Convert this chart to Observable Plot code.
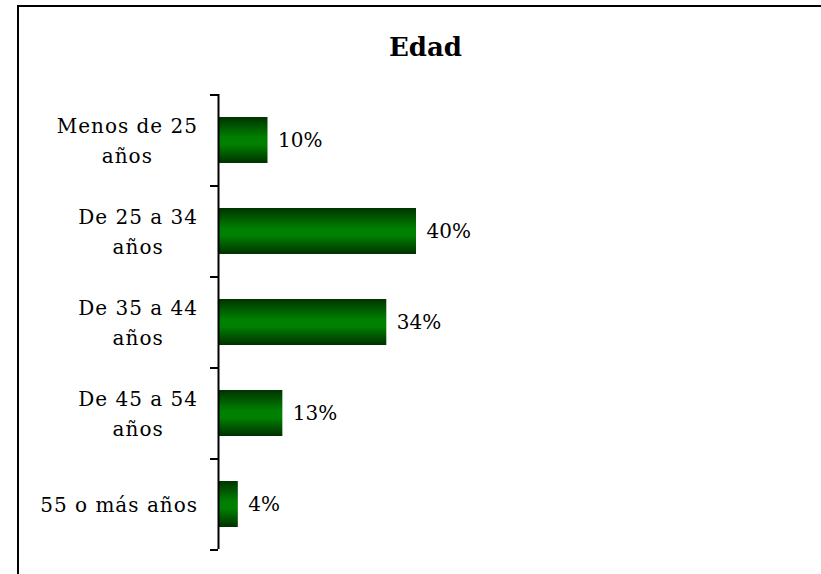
<!DOCTYPE html>
<html><head><meta charset="utf-8">
<script src="https://cdn.jsdelivr.net/npm/d3@7"></script>
<script src="https://cdn.jsdelivr.net/npm/@observablehq/plot@0.6"></script>
<style>
body{margin:0;background:#fff;}
#wrap{position:relative;width:821px;height:574px;overflow:hidden;background:#fff;}
#frame{position:absolute;left:17px;top:5px;width:1000px;height:1000px;border:2px solid #000;box-sizing:border-box;}
#title{position:relative;height:70px;box-sizing:border-box;padding-top:34px;width:851px;text-align:center;font:bold 26px/26px "DejaVu Serif";color:#000;}
#chart{position:relative;}
</style></head><body>
<div id="wrap"><div id="frame"></div><div id="title">Edad</div><div id="chart"></div></div>
<script>
const categories = ["Menos de 25\naños", "De 25 a 34\naños", "De 35 a 44\naños", "De 45 a 54\naños", "55 o más años"];
const values = [10, 40, 34, 13, 4];
const valueLabels = ["10%", "40%", "34%", "13%", "4%"];

const W = 821, H = 504, mL = 218, mR = 108, mT = 24, mB = 25;
const xDomain = [0, 100];
const pxPerUnit = (W - mL - mR) / (xDomain[1] - xDomain[0]);
const step = (H - mT - mB) / categories.length;
const letterSpacing = 1;
const ctx = document.createElement("canvas").getContext("2d");
ctx.font = '20px "DejaVu Serif"';
const labelGap = 21;

const data = categories.map((c, i) => {
  const w = Math.max(...c.split("\n").map(s => ctx.measureText(s).width + letterSpacing * (s.length - 1)));
  return {cat: c, value: values[i], label: valueLabels[i], lx: -(labelGap + w / 2) / pxPerUnit};
});

function gradientDefs() {
  const ns = "http://www.w3.org/2000/svg";
  const defs = document.createElementNS(ns, "defs");
  const g = document.createElementNS(ns, "linearGradient");
  g.setAttribute("id", "barGrad");
  g.setAttribute("x1", "0"); g.setAttribute("y1", "0");
  g.setAttribute("x2", "0"); g.setAttribute("y2", "1");
  [["0", "#003300"], ["0.45", "#008000"], ["0.6", "#008000"], ["1", "#003000"]].forEach(([o, c]) => {
    const s = document.createElementNS(ns, "stop");
    s.setAttribute("offset", o); s.setAttribute("stop-color", c);
    g.appendChild(s);
  });
  defs.appendChild(g);
  return defs;
}

const chart = Plot.plot({
  width: W, height: H,
  marginLeft: mL, marginRight: mR, marginTop: mT, marginBottom: mB,
  style: {fontFamily: '"DejaVu Serif"', fontSize: "20px", color: "#000", background: "transparent", overflow: "visible"},
  x: {domain: xDomain, axis: null},
  y: {domain: categories, paddingInner: 0.5, paddingOuter: 0.25, axis: null},
  marks: [
    gradientDefs,
    Plot.barX(data, {x: "value", y: "cat", fill: "url(#barGrad)"}),
    Plot.ruleX([0], {stroke: "#000", strokeWidth: 2}),
    Plot.axisY({ticks: categories, tickSize: 8, fill: "none", stroke: "#000", strokeWidth: 2, label: null, dy: -step / 2}),
    Plot.axisY({ticks: [categories[categories.length - 1]], tickSize: 8, fill: "none", stroke: "#000", strokeWidth: 2, label: null, dy: step / 2}),
    Plot.text(data, {x: "value", y: "cat", text: "label", textAnchor: "start", dx: 10, fontSize: 20, fill: "#000"}),
    Plot.text(data, {x: "lx", y: "cat", text: "cat", textAnchor: "middle", lineHeight: 1.5, dy: -2, fontSize: 20, fill: "#000"})
  ]
});
const textGroups = chart.querySelectorAll('g[aria-label="text"]');
textGroups[textGroups.length - 1].style.letterSpacing = letterSpacing + "px";
document.getElementById("chart").appendChild(chart);
</script>
</body></html>
